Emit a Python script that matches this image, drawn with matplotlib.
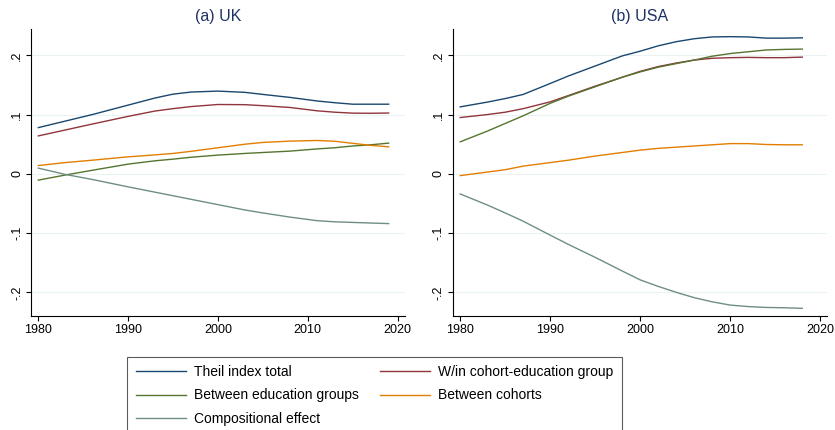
import matplotlib
matplotlib.use("Agg")
import matplotlib.pyplot as plt
from matplotlib.ticker import FixedLocator

# ================= data =================
uk_years = [1980, 1983, 1986, 1990, 1993, 1995, 1997, 2000, 2003, 2005, 2008, 2011, 2013, 2015, 2017, 2019]
uk_total = [0.078, 0.089, 0.100, 0.116, 0.128, 0.1345, 0.138, 0.1396, 0.1375, 0.134, 0.129, 0.123, 0.120, 0.1175, 0.1175, 0.1175]
uk_within = [0.064, 0.074, 0.084, 0.097, 0.106, 0.110, 0.1135, 0.117, 0.1167, 0.115, 0.112, 0.1064, 0.104, 0.1024, 0.1022, 0.1026]
uk_edu = [-0.0106, -0.002, 0.006, 0.0164, 0.022, 0.0248, 0.028, 0.0316, 0.0344, 0.036, 0.0383, 0.042, 0.044, 0.047, 0.049, 0.0518]
uk_cohort = [0.014, 0.019, 0.023, 0.0287, 0.032, 0.0344, 0.038, 0.044, 0.050, 0.053, 0.0552, 0.0563, 0.055, 0.0515, 0.048, 0.0456]
uk_comp = [0.0096, -0.001, -0.0095, -0.022, -0.031, -0.037, -0.043, -0.052, -0.061, -0.066, -0.073, -0.079, -0.081, -0.082, -0.083, -0.084]

us_years = [1980, 1983, 1985, 1987, 1990, 1992, 1995, 1998, 2000, 2002, 2004, 2006, 2008, 2010, 2012, 2014, 2016, 2018]
us_total = [0.113, 0.121, 0.127, 0.134, 0.1525, 0.165, 0.182, 0.199, 0.207, 0.216, 0.223, 0.228, 0.231, 0.2315, 0.231, 0.229, 0.229, 0.2295]
us_within = [0.095, 0.100, 0.104, 0.110, 0.1215, 0.132, 0.148, 0.163, 0.173, 0.181, 0.187, 0.192, 0.195, 0.196, 0.1965, 0.196, 0.196, 0.197]
us_edu = [0.054, 0.072, 0.085, 0.098, 0.119, 0.131, 0.147, 0.163, 0.172, 0.180, 0.186, 0.192, 0.1985, 0.203, 0.206, 0.209, 0.210, 0.2105]
us_cohort = [-0.003, 0.003, 0.007, 0.013, 0.019, 0.023, 0.030, 0.036, 0.040, 0.043, 0.045, 0.047, 0.049, 0.051, 0.051, 0.0495, 0.049, 0.049]
us_comp = [-0.034, -0.0525, -0.066, -0.080, -0.1035, -0.119, -0.141, -0.164, -0.179, -0.190, -0.200, -0.209, -0.216, -0.2215, -0.224, -0.2255, -0.226, -0.227]

labels = ["Theil index total", "W/in cohort-education group", "Between education groups",
          "Between cohorts", "Compositional effect"]
colors = ["#1a476f", "#90353b", "#55752f", "#e37e00", "#6e8e84"]
yticks = [-0.2, -0.1, 0, 0.1, 0.2]
yticklabels = ["-.2", "-.1", "0", ".1", ".2"]
xticks = [1980, 1990, 2000, 2010, 2020]
# ========================================

plt.rcParams["font.family"] = ["Liberation Sans", "DejaVu Sans"]

fig = plt.figure(figsize=(8.35, 4.3), dpi=100)
ax1 = fig.add_axes([0.0368, 0.265, 0.448, 0.667])
ax2 = fig.add_axes([0.542, 0.265, 0.449, 0.667])

panels = [
    (ax1, "(a) UK", uk_years, [uk_total, uk_within, uk_edu, uk_cohort, uk_comp]),
    (ax2, "(b) USA", us_years, [us_total, us_within, us_edu, us_cohort, us_comp]),
]

handles = []
for ax, title, years, series in panels:
    for i, s in enumerate(series):
        ln, = ax.plot(years, s, color=colors[i], lw=1.0, label=labels[i])
        if ax is ax1:
            handles.append(ln)
    ax.set_xlim(1979.15, 2020.8)
    ax.set_ylim(-0.24, 0.244)
    ax.yaxis.set_major_locator(FixedLocator(yticks))
    ax.set_yticklabels(yticklabels, rotation=90, va="center", fontsize=9)
    ax.set_xticks(xticks)
    ax.set_xticklabels([str(x) for x in xticks], fontsize=9)
    ax.grid(axis="y", color="#eaf2f3", lw=0.8)
    ax.set_axisbelow(True)
    for sp in ["top", "right"]:
        ax.spines[sp].set_visible(False)
    for sp in ["left", "bottom"]:
        ax.spines[sp].set_linewidth(0.8)
    ax.tick_params(direction="out", length=3.5, width=0.8, pad=2)
    ax.set_title(title, fontsize=11.5, color="#1e3264", pad=6)

order = [0, 2, 4, 1, 3]
leg = fig.legend([handles[i] for i in order], [labels[i] for i in order],
                 loc="upper left", bbox_to_anchor=(0.152, -0.05, 0.593, 0.2205),
                 mode="expand", ncol=2, fontsize=10, frameon=True, fancybox=False,
                 handlelength=3.6, handletextpad=0.6, columnspacing=1.0,
                 labelspacing=0.66, borderpad=0.62, borderaxespad=0)
leg.get_frame().set_edgecolor("#333333")
leg.get_frame().set_linewidth(0.8)

fig.savefig("out.png", dpi=100)
